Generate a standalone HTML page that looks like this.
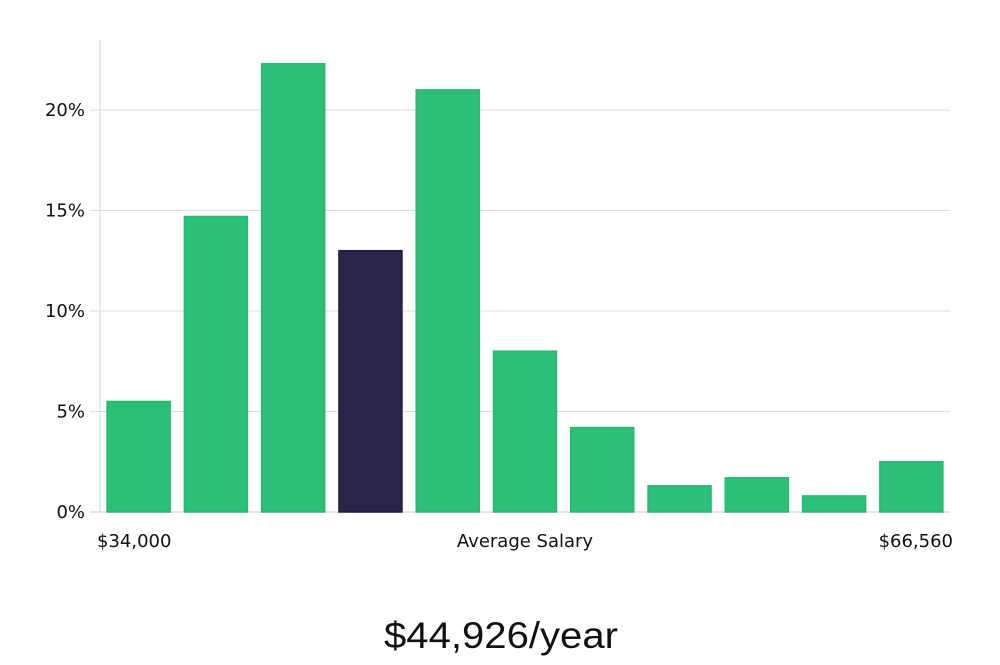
<!DOCTYPE html>
<html><head><meta charset="utf-8"><style>
body{margin:0;background:#fff;}
svg text{font-family:"DejaVu Sans","Liberation Sans",sans-serif;fill:#111;}
</style></head><body>
<svg id="chart" width="1000" height="660" xmlns="http://www.w3.org/2000/svg">
<g id="grid"></g><g id="bars"></g><g id="labels"></g>
<text x="97" y="547" font-size="18">$34,000</text>
<text x="525" y="547" font-size="18" text-anchor="middle">Average Salary</text>
<text x="953" y="547" font-size="18" text-anchor="end">$66,560</text>
<text x="501" y="648" font-size="37" text-anchor="middle" textLength="234" lengthAdjust="spacingAndGlyphs" style="font-family:'Liberation Sans',sans-serif;font-weight:300">$44,926/year</text>
</svg>
<script>
const values=[5.5,14.7,22.3,13.0,21.0,8.0,4.2,1.3,1.7,0.8,2.5];
const highlightIndex=3;
const yTicks=[0,5,10,15,20];
const yTickLabels=["0%","5%","10%","15%","20%"];
const NS="http://www.w3.org/2000/svg";
const x0=100,x1=950,yBase=512,pxPer=20.1;
const y=v=>yBase-v*pxPer;
const band=(x1-x0)/values.length, bw=63;
const grid=document.getElementById('grid'),bars=document.getElementById('bars'),labels=document.getElementById('labels');
function mk(tag,attrs,parent){const e=document.createElementNS(NS,tag);for(const k in attrs)e.setAttribute(k,attrs[k]);parent.appendChild(e);return e;}
yTicks.forEach((t,i)=>{
  const l=mk('line',{x1:x0-10,x2:x1,y1:y(t),y2:y(t),stroke:t===0?'#cfcfcf':'#dedede','stroke-width':1},grid);
  
  
  const tx=mk('text',{x:85,y:y(t)+6,'font-size':18,'text-anchor':'end'},labels);
  tx.textContent=yTickLabels[i];
  
  
});
const ax=mk('line',{x1:x0,x2:x0,y1:40,y2:yBase,stroke:'#d6d6d6','stroke-width':1},grid);


values.forEach((v,i)=>{
  const cx=x0+band*(i+0.5);
  const hi=i===highlightIndex;
  const r=mk('rect',{x:cx-bw/2,y:y(v),width:bw,height:yBase-y(v),fill:hi?'#29254a':'#2bbf77',stroke:hi?'#1f1b40':'#25b86f','stroke-width':1.5},bars);
  
  
});
</script>
</body></html>
